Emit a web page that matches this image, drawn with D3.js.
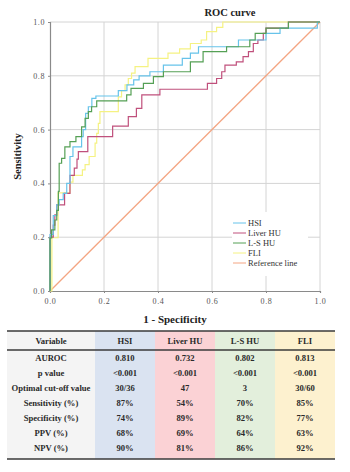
<!DOCTYPE html>
<html>
<head>
<meta charset="utf-8">
<script src="https://cdn.jsdelivr.net/npm/d3@7"></script>
<style>
  body { margin: 0; background: #fff; }
  svg { display: block; }
</style>
</head>
<body>
<svg id="chart" width="350" height="472"></svg>
<script>
// ROC points [1 - specificity, sensitivity], step after each point
const hsiPts = [[0,0],[0,0.21],[0.012,0.28],[0.025,0.32],[0.034,0.34],[0.049,0.363],[0.062,0.40],[0.074,0.50],[0.085,0.536],[0.117,0.574],[0.123,0.6],[0.132,0.66],[0.142,0.685],[0.155,0.716],[0.17,0.725],[0.253,0.745],[0.285,0.766],[0.31,0.785],[0.33,0.80],[0.37,0.815],[0.42,0.84],[0.49,0.865],[0.52,0.884],[0.55,0.908],[0.698,0.933],[0.80,0.958],[0.852,0.977],[0.99,1],[1,1]]
const liverPts = [[0,0],[0,0.2],[0.012,0.245],[0.018,0.283],[0.025,0.32],[0.054,0.363],[0.074,0.43],[0.09,0.457],[0.1,0.49],[0.105,0.518],[0.14,0.574],[0.232,0.613],[0.29,0.648],[0.32,0.679],[0.34,0.729],[0.407,0.75],[0.583,0.772],[0.617,0.79],[0.636,0.815],[0.648,0.84],[0.69,0.852],[0.715,0.871],[0.735,0.89],[0.753,0.92],[0.77,0.933],[0.79,0.958],[0.80,0.977],[0.883,1],[1,1]]
const lsPts = [[0,0],[0,0.197],[0.006,0.227],[0.018,0.264],[0.025,0.30],[0.031,0.37],[0.034,0.475],[0.043,0.493],[0.055,0.536],[0.074,0.555],[0.096,0.574],[0.117,0.61],[0.13,0.642],[0.142,0.667],[0.154,0.685],[0.173,0.707],[0.284,0.729],[0.30,0.753],[0.346,0.772],[0.383,0.797],[0.42,0.815],[0.52,0.852],[0.567,0.89],[0.654,0.908],[0.74,0.933],[0.76,0.958],[0.80,0.977],[0.883,1],[1,1]]
const fliPts = [[0,0],[0.007,0.198],[0.03,0.365],[0.074,0.405],[0.085,0.43],[0.12,0.45],[0.13,0.47],[0.145,0.5],[0.167,0.55],[0.173,0.586],[0.179,0.623],[0.185,0.667],[0.253,0.722],[0.265,0.745],[0.278,0.766],[0.29,0.79],[0.302,0.81],[0.315,0.834],[0.363,0.865],[0.437,0.884],[0.48,0.90],[0.52,0.92],[0.56,0.933],[0.58,0.964],[0.617,0.98],[0.64,1],[1,1]]
const refPts = [[0,0],[1,1]]

const seriesNames = ['HSI', 'Liver HU', 'L-S HU', 'FLI', 'Reference line']
const seriesColors = ['#67c3ea', '#c0507c', '#55a055', '#f5f282', '#f4a582']
const axisTicks = [0, 0.2, 0.4, 0.6, 0.8, 1.0]

// table
const tableHeader = ['Variable', 'HSI', 'Liver HU', 'L-S HU', 'FLI']
const rowLabels = ['AUROC', 'p value', 'Optimal cut-off value', 'Sensitivity (%)', 'Specificity (%)', 'PPV (%)', 'NPV (%)']
const hsiStats = ['0.810', '<0.001', '30/36', '87%', '74%', '68%', '90%']
const liverStats = ['0.732', '<0.001', '47', '54%', '89%', '69%', '81%']
const lsStats = ['0.802', '<0.001', '3', '70%', '82%', '64%', '86%']
const fliStats = ['0.813', '<0.001', '30/60', '85%', '77%', '63%', '92%']

const svg = d3.select('#chart')
const serif = "'Liberation Serif', 'Times New Roman', serif"

/* ----------  SCALES  ---------- */
const x = d3.scaleLinear().domain([0, 1]).range([50, 320])
const y = d3.scaleLinear().domain([0, 1]).range([291, 22])

// grid
const grid = svg.append('g')
grid.selectAll('.gx').data(axisTicks.slice(1)).join('line')
  .attr('x1', d => x(d)).attr('x2', d => x(d))
  .attr('y1', y(0)).attr('y2', y(1))
  .attr('stroke', '#d4d4d4').attr('stroke-width', 1)
grid.selectAll('.gy').data(axisTicks.slice(1)).join('line')
  .attr('x1', x(0)).attr('x2', x(1))
  .attr('y1', d => y(d)).attr('y2', d => y(d))
  .attr('stroke', '#d4d4d4').attr('stroke-width', 1)

// axes
const xAxis = svg.append('g')
  .attr('transform', `translate(0,${y(0)})`)
  .call(d3.axisBottom(x).tickValues(axisTicks).tickFormat(d3.format('.1f')).tickSize(2))
const yAxis = svg.append('g')
  .attr('transform', `translate(${x(0)},0)`)
  .call(d3.axisLeft(y).tickValues(axisTicks).tickFormat(d3.format('.1f')).tickSize(2))
;[xAxis, yAxis].forEach(a => {
  a.select('.domain').attr('stroke', '#8a8a8a').attr('stroke-width', 1.2)
  a.selectAll('.tick line').attr('stroke', '#8a8a8a')
  a.selectAll('.tick text')
    .style('font-family', serif).style('font-size', '8px').style('letter-spacing', '0.6px')
    .attr('fill', '#555')
})
xAxis.selectAll('.tick text').attr('dy', '1.05em')

/* ----------  CURVES  ---------- */
const stepLine = d3.line().x(d => x(d[0])).y(d => y(d[1])).curve(d3.curveStepAfter)
const straight = d3.line().x(d => x(d[0])).y(d => y(d[1]))

svg.append('path').datum(refPts)
  .attr('d', straight).attr('fill', 'none')
  .attr('stroke', seriesColors[4]).attr('stroke-width', 1.3)

const curves = [fliPts, liverPts, hsiPts, lsPts]
const curveColors = [seriesColors[3], seriesColors[1], seriesColors[0], seriesColors[2]]
curves.forEach((pts, i) => {
  svg.append('path').datum(pts)
    .attr('d', stepLine).attr('fill', 'none')
    .attr('stroke', curveColors[i]).attr('stroke-width', 1.2)
})

/* ----------  LEGEND  ---------- */
svg.append('rect').attr('x', 232).attr('y', 212).attr('width', 76).attr('height', 64).attr('fill', '#fff')
const legend = svg.append('g').attr('transform', 'translate(233,223)')
seriesNames.forEach((name, i) => {
  const g = legend.append('g').attr('transform', `translate(0,${i * 10})`)
  g.append('line').attr('x1', 0).attr('x2', 13).attr('y1', 0).attr('y2', 0)
    .attr('stroke', seriesColors[i]).attr('stroke-width', 1)
  g.append('text').attr('x', 15).attr('y', 3)
    .style('font-family', serif).style('font-size', '8.5px').attr('fill', '#333')
    .text(name)
})

/* ----------  TITLES  ---------- */
svg.append('text').attr('x', 230).attr('y', 16).attr('text-anchor', 'middle')
  .style('font-family', serif).style('font-size', '10.5px').style('font-weight', 'bold')
  .attr('fill', '#222').text('ROC curve')
svg.append('text')
  .attr('transform', `translate(21,${(y(0) + y(1)) / 2}) rotate(-90)`)
  .attr('text-anchor', 'middle')
  .style('font-family', serif).style('font-size', '10.5px').style('font-weight', 'bold')
  .attr('fill', '#222').text('Sensitivity')
svg.append('text').attr('x', 175).attr('y', 323).attr('text-anchor', 'middle')
  .style('font-family', serif).style('font-size', '11px').style('font-weight', 'bold')
  .attr('fill', '#222').text('1 - Specificity')

/* ----------  TABLE  ---------- */
const colEdges = [7, 95, 155, 215, 275, 335]
const colFills = ['#f4f4f4', '#dae3f1', '#fbd2d5', '#e3efdc', '#fdf1cf']
const tableTop = 331
const headerBottom = 350
const rowStep = 15
const firstRowY = 357.5
const tableBottom = 459

colFills.forEach((c, i) => {
  svg.append('rect').attr('x', colEdges[i]).attr('y', tableTop)
    .attr('width', colEdges[i + 1] - colEdges[i]).attr('height', tableBottom - tableTop)
    .attr('fill', c)
})
;[tableTop, headerBottom, tableBottom].forEach(ly => {
  svg.append('line').attr('x1', colEdges[0]).attr('x2', colEdges[5])
    .attr('y1', ly).attr('y2', ly)
    .attr('stroke', '#3a3a3a').attr('stroke-width', 1.6)
})

const colCenter = i => (colEdges[i] + colEdges[i + 1]) / 2
const cellText = (cx, cy, t) => svg.append('text')
  .attr('x', cx).attr('y', cy).attr('dy', '0.35em').attr('text-anchor', 'middle')
  .style('font-family', serif).style('font-size', '8.6px').style('font-weight', 'bold')
  .attr('fill', '#2a2a2a').text(t)

tableHeader.forEach((h, i) => cellText(colCenter(i), (tableTop + headerBottom) / 2, h))
const columns = [rowLabels, hsiStats, liverStats, lsStats, fliStats]
columns.forEach((col, ci) => {
  col.forEach((v, ri) => cellText(colCenter(ci), firstRowY + ri * rowStep, v))
})
</script>
</body>
</html>
